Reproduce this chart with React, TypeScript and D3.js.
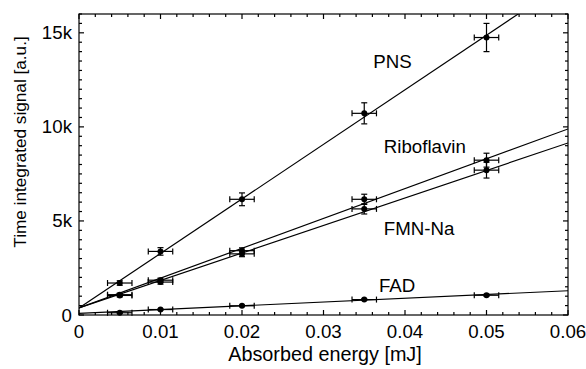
import React from "react";
import * as d3 from "d3";

const energies = [0.005, 0.01, 0.02, 0.035, 0.05];
const seriesNames = ["PNS", "Riboflavin", "FMN-Na", "FAD"];
const pnsValues = [1700, 3380, 6150, 10720, 14750];
const riboValues = [1080, 1850, 3420, 6150, 8230];
const fmnValues = [1040, 1750, 3250, 5640, 7700];
const fadValues = [120, 290, 490, 820, 1050];
const pnsErr = [120, 200, 340, 560, 750];
const riboErr = [80, 110, 150, 270, 370];
const fmnErr = [80, 110, 150, 270, 420];
const fadErr = [30, 30, 40, 40, 50];
const xErr = [0.0015, 0.0015, 0.0015, 0.0015, 0.0015];
// linear fits: intercept, slope
const fitIntercepts = [372, 372, 372, 90];
const fitSlopes = [290000, 158600, 146200, 20000];
const xTicks = [0, 0.01, 0.02, 0.03, 0.04, 0.05, 0.06];
const xTickLabels = ["0", "0.01", "0.02", "0.03", "0.04", "0.05", "0.06"];
const yTicks = [0, 5000, 10000, 15000];
const yTickLabels = ["0", "5k", "10k", "15k"];
const labelPos = [
  { x: 0.0361, y: 13130 },
  { x: 0.0374, y: 8600 },
  { x: 0.0374, y: 4230 },
  { x: 0.0368, y: 1200 },
];

export default function App() {
  const left = 79, right = 568, top = 14, bottom = 315;
  const x = d3.scaleLinear().domain([0, 0.06]).range([left, right]);
  const y = d3.scaleLinear().domain([0, 16000]).range([bottom, top]);
  const font = "'Liberation Sans', Arial, Helvetica, sans-serif";
  const values = [pnsValues, riboValues, fmnValues, fadValues];
  const errs = [pnsErr, riboErr, fmnErr, fadErr];
  const xMinor = d3.range(0, 0.0601, 0.002);
  const yMinor = d3.range(0, 16001, 500);
  const line = d3.line<[number, number]>().x((d) => x(d[0])).y((d) => y(d[1]));
  const sw = 1.2;
  const cap = 3;

  return (
    <svg width={586} height={369} style={{ position: "absolute", left: 0, top: 0, background: "#fff" }}>
      <defs>
        <clipPath id="plot">
          <rect x={left} y={top} width={right - left} height={bottom - top} />
        </clipPath>
      </defs>
      <rect x={0} y={0} width={586} height={369} fill="#fff" />
      <g clipPath="url(#plot)">
        {fitIntercepts.map((b, i) => (
          <path
            key={i}
            d={line([[0, b], [0.06, b + fitSlopes[i] * 0.06]]) || ""}
            fill="none"
            stroke="#000"
            strokeWidth={sw}
          />
        ))}
      </g>
      {values.map((vals, si) => (
        <g key={si}>
          {vals.map((v, i) => {
            const cx = x(energies[i]);
            const cy = y(v);
            const x0 = x(energies[i] - xErr[i]);
            const x1 = x(energies[i] + xErr[i]);
            const y0 = y(v - errs[si][i]);
            const y1 = y(v + errs[si][i]);
            return (
              <g key={i} stroke="#000" strokeWidth={sw}>
                <line x1={x0} x2={x1} y1={cy} y2={cy} />
                <line x1={x0} x2={x0} y1={cy - cap} y2={cy + cap} />
                <line x1={x1} x2={x1} y1={cy - cap} y2={cy + cap} />
                <line x1={cx} x2={cx} y1={y0} y2={y1} />
                <line x1={cx - cap} x2={cx + cap} y1={y0} y2={y0} />
                <line x1={cx - cap} x2={cx + cap} y1={y1} y2={y1} />
                <circle cx={cx} cy={cy} r={3} fill="#000" stroke="none" />
              </g>
            );
          })}
        </g>
      ))}
      <g stroke="#000" strokeWidth={1.2}>
        <rect x={left} y={top} width={right - left} height={bottom - top} fill="none" />
        {xMinor.map((t, i) => {
          const len = xTicks.some((m) => Math.abs(m - t) < 1e-9) ? 5 : 3;
          return (
            <g key={"xm" + i}>
              <line x1={x(t)} x2={x(t)} y1={bottom} y2={bottom - len} />
              <line x1={x(t)} x2={x(t)} y1={top} y2={top + len} />
            </g>
          );
        })}
        {yMinor.map((t, i) => {
          const len = yTicks.includes(t) ? 5 : 3;
          return (
            <g key={"ym" + i}>
              <line x1={left} x2={left + len} y1={y(t)} y2={y(t)} />
              <line x1={right} x2={right - len} y1={y(t)} y2={y(t)} />
            </g>
          );
        })}
      </g>
      <g fontFamily={font} fontSize={18.7} fill="#000">
        {xTicks.map((t, i) => (
          <text key={"xl" + i} x={x(t)} y={338} textAnchor="middle">
            {xTickLabels[i]}
          </text>
        ))}
        {yTicks.map((t, i) => (
          <text key={"yl" + i} x={72} y={y(t) + 6.5} textAnchor="end">
            {yTickLabels[i]}
          </text>
        ))}
        <text x={325} y={361} textAnchor="middle" fontSize={19.8}>Absorbed energy [mJ]</text>
        <text transform={`translate(26,${142}) rotate(-90)`} textAnchor="middle" fontSize={17.2}>
          Time integrated signal [a.u.]
        </text>
      </g>
      <g fontFamily={font} fontSize={18.7} fill="#000">
        {seriesNames.map((n, i) => (
          <text key={n} x={x(labelPos[i].x)} y={y(labelPos[i].y)}>
            {n}
          </text>
        ))}
      </g>
    </svg>
  );
}
